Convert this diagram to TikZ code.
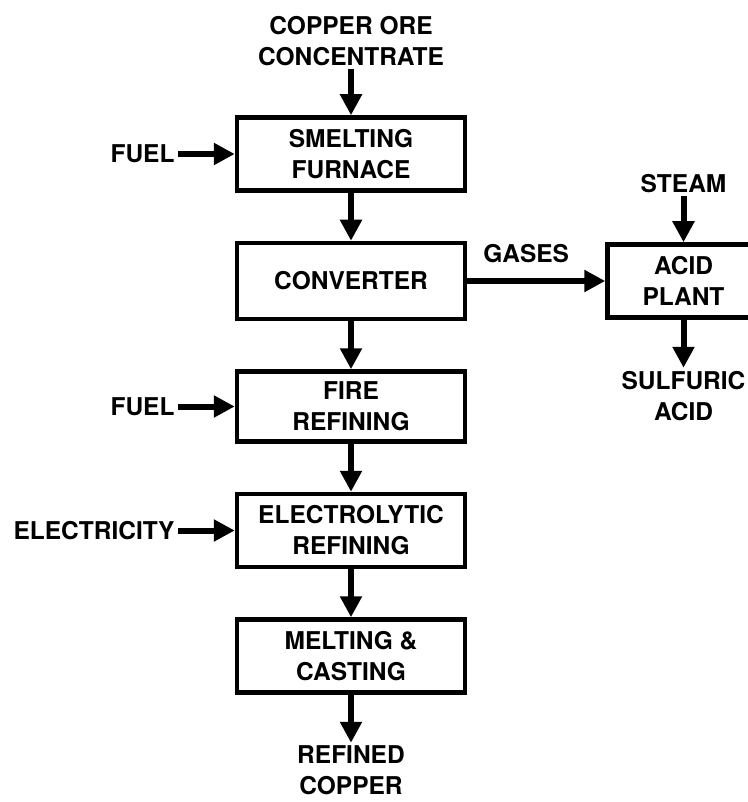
\documentclass[tikz,border=0pt]{standalone}
\usepackage{fontspec}
\setmainfont{TeX Gyre Heros}
\usetikzlibrary{arrows.meta, positioning}

\begin{document}
\begin{tikzpicture}[node distance=48pt, font=\bfseries\fontsize{24.5}{31}\selectfont,
    box/.style={draw, rectangle, line width=4.5pt, minimum width=228pt, minimum height=73pt, align=center},
    feed/.style={align=center, inner sep=3pt},
    flow/.style={-{Triangle[length=21pt, width=21pt]}, line width=6pt}]
    \useasboundingbox (0,0) rectangle (747pt,-802pt);

    % Main line
    \node[box] (smelt) at (351pt,-154pt) {SMELTING\\FURNACE};
    \node[box, below=of smelt, minimum height=76pt] (conv) {CONVERTER};
    \node[box, below=of conv, minimum height=70pt] (fire) {FIRE\\REFINING};
    \node[box, below=of fire] (elec) {ELECTROLYTIC\\REFINING};
    \node[box, below=of elec] (melt) {MELTING \&\\CASTING};

    % Inputs and product
    \node[feed, above=46pt of smelt] (ore) {COPPER ORE\\CONCENTRATE};
    \node[feed, left=57pt of smelt] (fuel) {FUEL};
    \node[feed, left=57pt of fire] (fuel2) {FUEL};
    \node[feed, left=57pt of elec] (power) {ELECTRICITY};
    \node[feed, below=of melt] (copper) {REFINED\\COPPER};

    \draw[flow] (ore.south) -- (smelt.north);
    \draw[flow] (fuel.east) -- (smelt.west);
    \draw[flow] (smelt.south) -- (conv.north);
    \draw[flow] (conv.south) -- (fire.north);
    \draw[flow] (fuel2.east) -- (fire.west);
    \draw[flow] (fire.south) -- (elec.north);
    \draw[flow] (power.east) -- (elec.west);
    \draw[flow] (elec.south) -- (melt.north);
    \draw[flow] (melt.south) -- (copper.north);

    % Acid plant
    \node[box, right=138pt of conv, minimum width=152pt] (acid) {ACID\\PLANT};
    \node[feed, above=46pt of acid] (steam) {STEAM};
    \node[feed, below=of acid] (sulf) {SULFURIC\\ACID};

    \draw[flow] (conv.east) -- (acid.west) node[midway, above=12pt, xshift=-10pt] (gases) {GASES};
    \draw[flow] (steam.south) -- (acid.north);
    \draw[flow] (acid.south) -- (sulf.north);
\end{tikzpicture}
\end{document}
